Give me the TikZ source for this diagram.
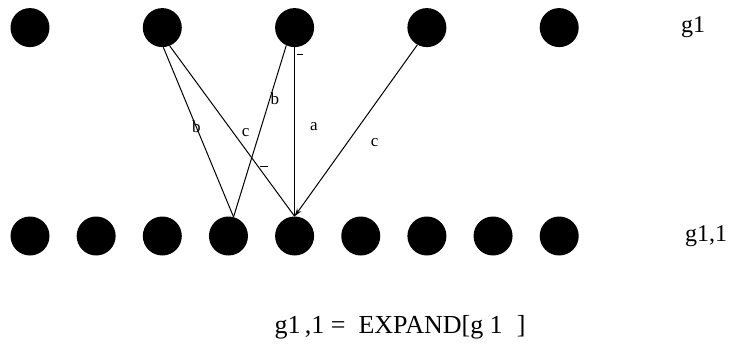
\documentclass[tikz,border=0pt]{standalone}
\usepackage{fontspec}
\setmainfont{Liberation Serif}
\usepackage{tikz}
\usetikzlibrary{arrows.meta, positioning}

\begin{document}
\begin{tikzpicture}[
  x=1pt, y=-1pt,
  node distance=26.75pt and 26.75pt,
  dot/.style={circle, fill=black, draw=none, inner sep=0pt, minimum size=39pt},
  rowlabel/.style={inner sep=0pt, font=\fontsize{24}{28}\selectfont},
  edgelabel/.style={inner sep=0pt, font=\fontsize{17}{20}\selectfont},
  exprtext/.style={inner sep=0pt, font=\fontsize{26}{30}\selectfont},
  link/.style={line width=1pt, draw=black},
  arrow/.style={-{Stealth[length=8pt, width=5pt]}, line width=1pt, draw=black}
]
\useasboundingbox (0,0) rectangle (733,345);
% bottom row
\node[dot] (b1) at (30,236) {};
\node[dot, right=of b1] (b2) {};
\node[dot, right=of b2] (b3) {};
\node[dot, right=of b3] (b4) {};
\node[dot, right=of b4] (b5) {};
\node[dot, right=of b5] (b6) {};
\node[dot, right=of b6] (b7) {};
\node[dot, right=of b7] (b8) {};
\node[dot, right=of b8] (b9) {};
% top row
\node[dot, above=169pt of b1] (t1) {};
\node[dot, above=169pt of b3] (t2) {};
\node[dot, above=169pt of b5] (t3) {};
\node[dot, above=169pt of b7] (t4) {};
\node[dot, above=169pt of b9] (t5) {};
\node[rowlabel, right=102pt of t5] (top) {g1};
\node[rowlabel, right=106pt of b9] (bottom) {g1,1};
\node[exprtext] (expr) at (400,327) {g1\,,1 = \ EXPAND[g 1\hspace{14pt}]};
% connections
\draw[link] (t2.-87) -- node[edgelabel, pos=.47] {b} (b4.75);
\draw[link] (t2.-68) -- node[edgelabel, pos=.51, right=8pt] {c} (b5.north);
\draw[link] (t3.-115) -- node[edgelabel, pos=.31, xshift=5pt] {b} (b4.75);
\draw[link] (t3.south) -- node[edgelabel, pos=.47, right=15pt] {a} (b5.north);
\draw[arrow] (t4.-119) -- node[edgelabel, pos=.57, right=23pt] {c} (b5.north);
\draw[link] ([shift={(2pt,-7pt)}]t3.south) -- ++(6pt,0pt);
\draw[link] (260,166) -- (268,166);
\end{tikzpicture}
\end{document}
